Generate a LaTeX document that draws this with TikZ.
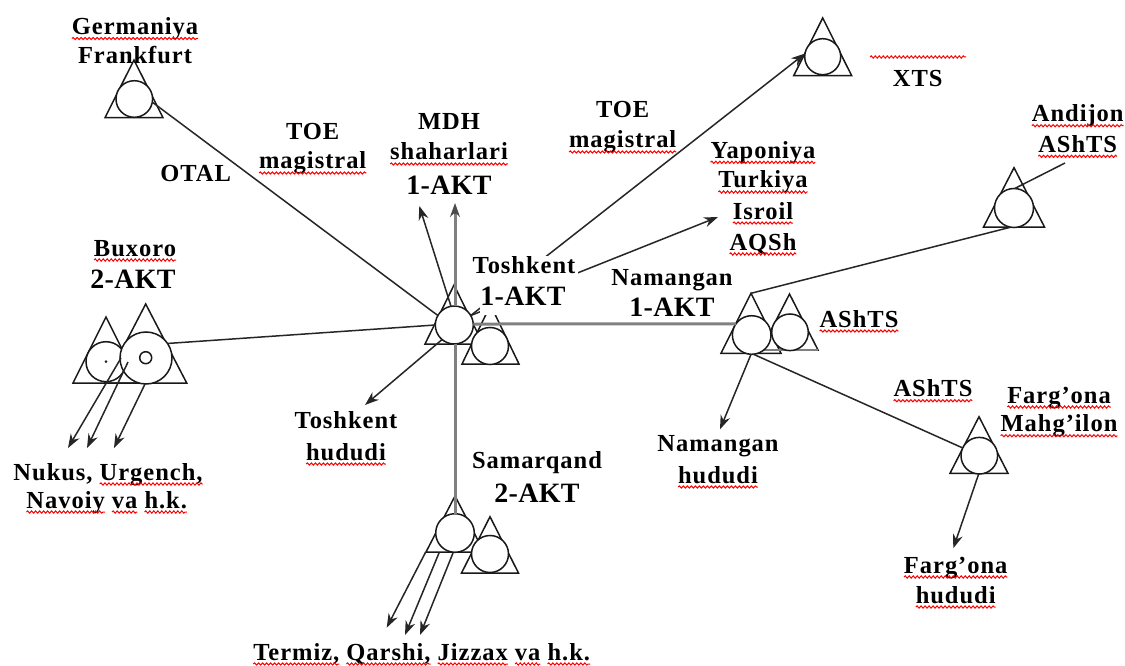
\documentclass[tikz,border=0pt]{standalone}
\usepackage{fontspec}
\setmainfont{Liberation Serif}
\usetikzlibrary{arrows.meta,decorations.pathmorphing}
\newlength\wvw
\tikzset{wavy/.style={red,line width=1pt,decorate,decoration={snake,amplitude=1.1pt,segment length=4pt}}}
\newcommand\wv[1]{\settowidth\wvw{#1}\rlap{#1}\tikz[baseline=0pt]{\path (0pt,0pt) (\wvw,0pt);\draw[overlay,wavy] (0pt,-4pt)--(\wvw,-4pt);}}
\newcommand\tri[4]{\draw[st] (#1,#2)--({#1-#4},#3)--({#1+#4},#3)--cycle;}
\tikzset{
 lb/.style={font=\fontsize{24.5}{28}\selectfont\bfseries\addfontfeature{LetterSpace=4},anchor=base,inner sep=0pt,outer sep=0pt,text=black},
 bg/.style={lb,font=\fontsize{28}{32}\selectfont\bfseries\addfontfeature{LetterSpace=1}},
 st/.style={draw=black!90,line width=1.5pt,line join=miter},
 cr/.style={circle,draw=black!90,fill=white,line width=1.5pt,inner sep=0pt,outer sep=0pt},
 ln/.style={draw=black!85,line width=1.5pt},
 ar/.style={ln,-{Stealth[length=14pt,width=10pt]}},
 wideline/.style={draw=black!50,line width=3pt},
}
\begin{document}
\begin{tikzpicture}[x=1pt,y=-1pt]
\useasboundingbox[fill=white] (0,0) rectangle (1125,666);
% triangles
\tri{134}{60}{117.7}{29}
\tri{822.7}{18}{75.7}{29}
\tri{1014}{167.7}{227}{30.5}
\tri{454}{285}{344}{29}
\tri{490.5}{305}{364}{28.5}
\tri{106}{317}{383}{33}
\tri{145.7}{304}{383}{41}
\tri{455}{496}{552}{29}
\tri{490}{516.7}{573}{28.5}
\tri{751}{293.3}{353.3}{30}
\tri{789.5}{294}{350}{28.5}
\draw[wideline,line width=2pt] (761.7,350)--(818.3,350);
\tri{979}{416.7}{473.3}{29}
% station circles
\node[cr,minimum size=36.6pt] (de) at (134.3,99) {};
\node[cr,minimum size=36pt] (xt) at (822.7,56.7) {};
\node[cr,minimum size=39pt] (an) at (1014,208) {};
\node[cr,minimum size=37pt] (tb) at (490,346) {};
\node[cr,minimum size=38pt] (tk) at (454.3,325) {};
\node[cr,minimum size=40pt] (bs) at (106,361.7) {};
\node[cr,minimum size=52pt] (bx) at (146,358) {};
\node[cr,minimum size=12pt] (bi) at (145.7,357.7) {};
\fill[black!85] (bs.center) circle (1.5pt);
\node[cr,minimum size=37pt] (sb) at (490,554) {};
\node[cr,minimum size=38.6pt] (sm) at (455,533) {};
\node[cr,minimum size=36.6pt] (nb) at (790,332.3) {};
\node[cr,minimum size=38.6pt] (nm) at (751.7,335) {};
\node[cr,minimum size=36.6pt] (fa) at (979.3,455.7) {};
% free ends
\coordinate (tMdhV) at (455,203);
\coordinate (tMdhL) at (419.3,206);
\coordinate (tYap) at (718,217);
\coordinate (tTh) at (365,405);
\coordinate (tNh) at (720,429.3);
\coordinate (tFh) at (953.3,548.3);
\coordinate (tAn) at (1065,163);
\coordinate (nmtop) at (751,293.3);
\coordinate (bxa) at (121,358);\coordinate (bxb) at (128,362);\coordinate (bxc) at (145,384);
\coordinate (nua) at (68,448);\coordinate (nub) at (87,448);\coordinate (nuc) at (114,448);
\coordinate (sma) at (425.7,552);\coordinate (smb) at (439,553);\coordinate (smc) at (453,553);
\coordinate (tea) at (386.7,627.7);\coordinate (teb) at (405,635);\coordinate (tec) at (420,635);
% connectors
\draw[ln] (de.-10)--(tk.150);
\draw[ln] (bx.34)--(tk.180);
\draw[ar] (tk.100)--(tMdhL);
\draw[wideline] (tk.north -| tMdhV)--(tMdhV|-0,212);
\draw[ar,draw=black!70] (tMdhV|-0,214)--(tMdhV);
\draw[wideline] (tk.south -| sm)--(sm.north);
\draw[wideline] (tk.3)--(nm.145);
\draw[ar] (tk.30)--(xt.170);
\draw[ar] (tk.30)--(tYap);
\draw[ar] (tk.-130)--(tTh);
\draw[ln] (nmtop)--(an.-100);
\draw[ln] (an.88)--(tAn);
\draw[ln] (nm.-85)--(fa.155);
\draw[ar] (nm.-92)--(tNh);
\draw[ar] (fa.-92)--(tFh);
\draw[ar] (bxa)--(nua);
\draw[ar] (bxb)--(nub);
\draw[ar] (bxc)--(nuc);
\draw[ar] (sma)--(tea);
\draw[ar] (smb)--(teb);
\draw[ar] (smc)--(tec);
% white ground of the Toshkent label
\node[fill=white,inner sep=0pt,minimum width=98pt,minimum height=59pt] (tkbg) at (529,285.5) {};
% labels
\node[lb] (l1) at (135,34.5) {\wv{Germaniya}};
\node[lb] (l2) at (135,64) {Frankfurt};
\node[lb] (l3) at (312.7,140) {TOE};
\node[lb] (l4) at (312.7,169) {\wv{magistral}};
\node[lb] (l5) at (195.7,181.7) {OTAL};
\node[lb] (l6) at (449,130) {MDH};
\node[lb] (l7) at (449,160) {\wv{shaharlari}};
\node[bg] (l8) at (449,194) {1-AKT};
\node[lb] (l9) at (622.7,117.7) {TOE};
\node[lb] (l10) at (622.7,148) {\wv{magistral}};
\node[lb] (l11) at (763,158.3) {\wv{Yaponiya}};
\node[lb] (l12) at (763,188) {\wv{Turkiya}};
\node[lb] (l13) at (763,219) {\wv{Isroil}};
\node[lb] (l14) at (763,250) {\wv{AQSh}};
\draw[wavy] (870,57)--(966,57);
\node[lb] (l15) at (917.7,86.7) {XTS};
\node[lb] (l16) at (1077.7,121.7) {\wv{Andijon}};
\node[lb] (l17) at (1077.7,152.3) {\wv{AShTS}};
\node[lb] (l18) at (524,273) {Toshkent};
\node[bg] (l19) at (523,305.7) {1-AKT};
\node[lb] (l20) at (672,285) {Namangan};
\node[bg] (l21) at (672,316) {1-AKT};
\node[lb] (l22) at (859,327) {\wv{AShTS}};
\node[lb] (l23) at (135,256) {\wv{Buxoro}};
\node[bg] (l24) at (133,288) {2-AKT};
\node[lb] (l25) at (108,480) {Nukus, \wv{Urgench,}};
\node[lb] (l26) at (106.7,508) {\wv{Navoiy} \wv{va} \wv{h.k.}};
\node[lb] (l27) at (346,428) {Toshkent};
\node[lb] (l28) at (346,460) {\wv{hududi}};
\node[lb] (l29) at (537,468) {Samarqand};
\node[bg] (l30) at (537,502) {2-AKT};
\node[lb] (l31) at (718,451) {Namangan};
\node[lb] (l32) at (718,483) {\wv{hududi}};
\node[lb] (l33) at (933,396.7) {\wv{AShTS}};
\node[lb] (l34) at (1059,403) {\wv{Farg’ona}};
\node[lb] (l35) at (1059,431.7) {\wv{Mahg’ilon}};
\node[lb] (l36) at (955.7,573) {\wv{Farg’ona}};
\node[lb] (l37) at (955.7,603) {\wv{hududi}};
\node[lb] (l38) at (421.7,660) {\wv{Termiz,} \wv{Qarshi,} \wv{Jizzax} \wv{va} \wv{h.k.}};
\end{tikzpicture}
\end{document}
